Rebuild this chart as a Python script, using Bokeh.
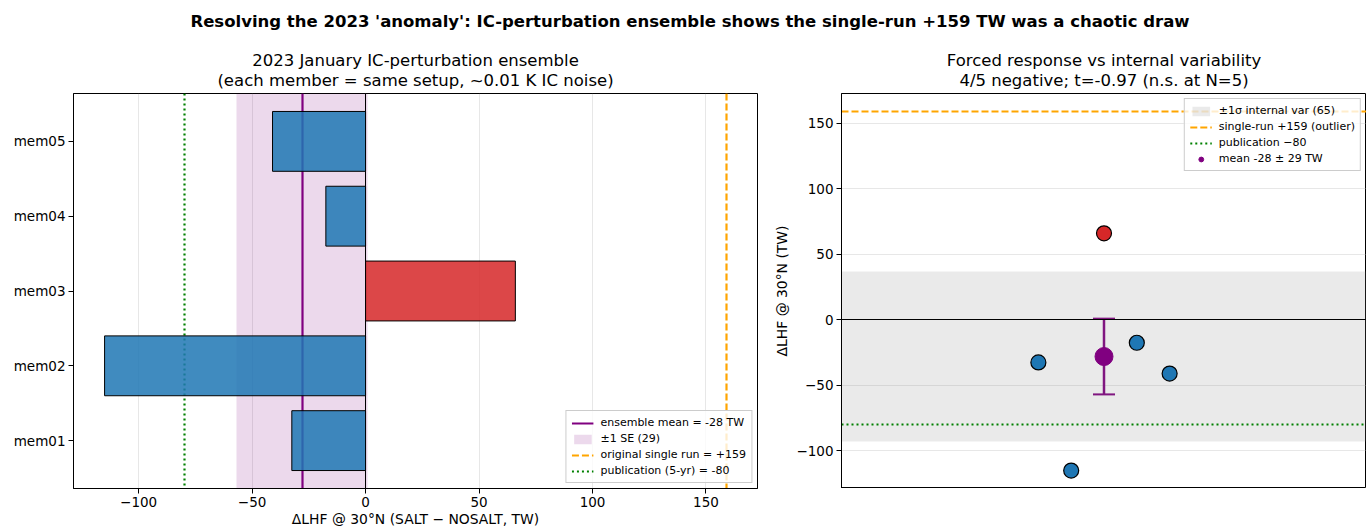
import numpy as np
from bokeh.plotting import figure
from bokeh.models import (FactorRange, Range1d, Legend, LegendItem, Title, Label,
                          Whisker, TeeHead, ColumnDataSource, FixedTicker)
from bokeh.layouts import column, row
from bokeh.embed import file_html
from bokeh.resources import INLINE

# ---------------- data ----------------
members = ["mem01", "mem02", "mem03", "mem04", "mem05"]
dlhf = [-32.5, -115.0, 66.0, -17.5, -41.0]   # TW
single_run = 159
publication = -80
x_ticks = [-100, -50, 0, 50, 100, 150]
y_ticks = [-100, -50, 0, 50, 100, 150]

FONT = "DejaVu Sans"
BLUE = "#1f77b4"
RED = "#d62728"

vals = np.array(dlhf)
mean = float(vals.mean())
sd = float(vals.std(ddof=1))
se = sd / np.sqrt(len(vals))
n_neg = int((vals < 0).sum())
t_stat = mean / se
colors = [RED if v > 0 else BLUE for v in dlhf]

def minus(v):
    return ("\u2212%d" % abs(v)) if v < 0 else "%d" % v

def style_axes(p):
    for ax in p.axis:
        ax.axis_line_color = "black"
        ax.major_tick_line_color = "black"
        ax.minor_tick_line_color = None
        ax.major_tick_in = 0
        ax.major_tick_out = 5
        ax.major_label_standoff = 3
        ax.major_label_text_font = FONT
        ax.major_label_text_font_size = "13.5px"
        ax.major_label_text_color = "black"
        ax.axis_label_text_font = FONT
        ax.axis_label_text_font_size = "13.9px"
        ax.axis_label_text_font_style = "normal"
        ax.axis_label_text_color = "black"
        ax.axis_label_standoff = 3
    p.outline_line_color = "black"
    p.outline_line_alpha = 1
    p.outline_line_width = 1

def add_titles(p, line1, line2):
    p.add_layout(Title(text=line2, align="center", text_font=FONT, text_font_size="16.5px",
                       text_font_style="normal", text_color="black", standoff=7), "above")
    p.add_layout(Title(text=line1, align="center", text_font=FONT, text_font_size="16.5px",
                       text_font_style="normal", text_color="black", standoff=-8), "above")

def style_legend(lg):
    lg.label_text_font = FONT
    lg.label_text_font_size = "11px"
    lg.label_text_color = "black"
    lg.border_line_color = "#cccccc"
    lg.border_line_alpha = 1
    lg.background_fill_alpha = 0.8
    lg.padding = 5
    lg.spacing = 3
    lg.margin = 5
    lg.glyph_width = 22
    lg.glyph_height = 12
    lg.label_height = 12
    lg.label_standoff = 7

# ---------------- suptitle ----------------
p0 = figure(width=1366, height=36, x_range=Range1d(0, 1366), y_range=Range1d(0, 36),
            min_border=0, toolbar_location=None, output_backend="svg")
p0.axis.visible = False
p0.grid.visible = False
p0.outline_line_color = None
p0.add_layout(Label(x=689.5, y=15, text="Resolving the 2023 'anomaly': IC-perturbation ensemble shows "
                    "the single-run +159 TW was a chaotic draw",
                    text_align="center", text_baseline="middle", text_font=FONT,
                    text_font_size="16.5px", text_font_style="bold", text_color="black"))

# ---------------- left panel ----------------
p1 = figure(title=None, y_range=FactorRange(factors=members, range_padding=0.056),
            x_range=Range1d(-128.7, 172.7), frame_width=684, frame_height=395,
            min_border_left=73, min_border_right=14, min_border_top=57, min_border_bottom=0,
            output_backend="svg", toolbar_location=None)
add_titles(p1, "2023 January IC-perturbation ensemble",
           "(each member = same setup, ~0.01 K IC noise)")

band = p1.vstrip(x0=[mean - se], x1=[mean + se], fill_color="purple", fill_alpha=0.15, line_color=None)
mline = p1.vspan(x=[mean], line_color="purple", line_width=2.2)
oline = p1.vspan(x=[single_run], line_color="orange", line_width=2.2, line_dash="7 3")
pline = p1.vspan(x=[publication], line_color="green", line_width=2.2, line_dash="2 3")
p1.vspan(x=[0], line_color="black", line_width=1)
p1.hbar(y=members, left=0, right=dlhf, height=0.8, fill_color=colors, fill_alpha=0.85,
        line_color="black", line_width=1)

p1.xaxis.ticker = FixedTicker(ticks=x_ticks)
p1.xaxis.major_label_overrides = {v: minus(v) for v in x_ticks}
p1.xaxis.axis_label = "\u0394LHF @ 30\u00b0N (SALT \u2212 NOSALT, TW)"
p1.ygrid.visible = False
p1.xgrid.grid_line_color = "#b0b0b0"
p1.xgrid.grid_line_alpha = 0.3
style_axes(p1)
p1.xaxis.axis_label_standoff = 1

lg1 = Legend(items=[
    LegendItem(label="ensemble mean = %d TW" % round(mean), renderers=[mline]),
    LegendItem(label="\u00b11 SE (%d)" % round(se), renderers=[band]),
    LegendItem(label="original single run = +%d" % single_run, renderers=[oline]),
    LegendItem(label="publication (5-yr) = %d" % publication, renderers=[pline]),
], location="bottom_right")
style_legend(lg1)
p1.add_layout(lg1)

# ---------------- right panel ----------------
p2 = figure(title=None, x_range=Range1d(-0.8, 0.8), y_range=Range1d(-128.7, 172.7),
            frame_width=525, frame_height=395, min_border_left=70, min_border_right=0,
            min_border_top=57, min_border_bottom=0, output_backend="svg", toolbar_location=None)
add_titles(p2, "Forced response vs internal variability",
           "%d/%d negative; t=%.2f (n.s. at N=%d)" % (n_neg, len(vals), t_stat, len(vals)))

sig = p2.hstrip(y0=[mean - sd], y1=[mean + sd], fill_color="gray", fill_alpha=0.17, line_color=None)
p2.hspan(y=[0], line_color="black", line_width=1)
o2 = p2.hspan(y=[single_run], line_color="orange", line_width=2.2, line_dash="7 3")
g2 = p2.hspan(y=[publication], line_color="green", line_width=2.2, line_dash="2 3")
xs = [(i - (len(members) - 1) / 2) * 0.1 for i in range(len(members))]
p2.scatter(x=xs, y=dlhf, size=15, fill_color=colors, line_color="black", line_width=1.2)
wsrc = ColumnDataSource(dict(x=[0.0], lo=[mean - se], hi=[mean + se]))
p2.add_layout(Whisker(source=wsrc, base="x", upper="hi", lower="lo", dimension="height",
                      line_color="purple", line_width=2.5,
                      upper_head=TeeHead(size=22, line_color="purple", line_width=2),
                      lower_head=TeeHead(size=22, line_color="purple", line_width=2)))
mpt = p2.scatter(x=[0.0], y=[mean], size=18, fill_color="purple", line_color="purple")

p2.xaxis.visible = False
p2.xgrid.visible = False
p2.ygrid.grid_line_color = "#b0b0b0"
p2.ygrid.grid_line_alpha = 0.3
p2.yaxis.ticker = FixedTicker(ticks=y_ticks)
p2.yaxis.major_label_overrides = {v: minus(v) for v in y_ticks}
p2.yaxis.axis_label = "\u0394LHF @ 30\u00b0N (TW)"
style_axes(p2)

lg2 = Legend(items=[
    LegendItem(label="\u00b11\u03c3 internal var (%d)" % round(sd), renderers=[sig]),
    LegendItem(label="single-run +%d (outlier)" % single_run, renderers=[o2]),
    LegendItem(label="publication \u2212%d" % abs(publication), renderers=[g2]),
    LegendItem(label="mean %d \u00b1 %d TW" % (round(mean), round(se)), renderers=[mpt]),
], location="top_right")
style_legend(lg2)
p2.add_layout(lg2)

layout = column(p0, row(p1, p2))
open("out.html", "w").write(file_html(layout, INLINE))
